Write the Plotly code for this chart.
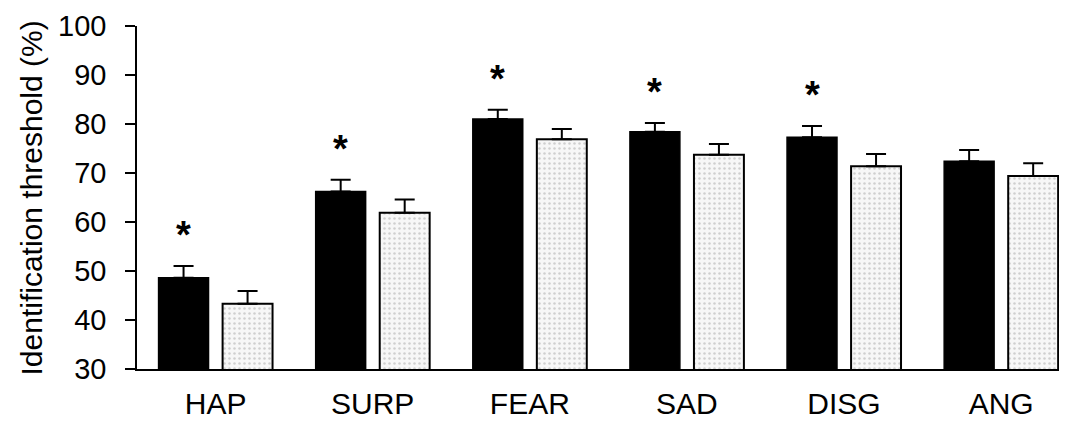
import plotly.graph_objects as go

categories = ["HAP", "SURP", "FEAR", "SAD", "DISG", "ANG"]
group_a = [48.6, 66.2, 81.0, 78.4, 77.3, 72.4]
group_a_err = [2.4, 2.4, 1.9, 1.8, 2.3, 2.3]
group_b = [43.3, 61.9, 76.9, 73.7, 71.4, 69.4]
group_b_err = [2.6, 2.7, 2.1, 2.2, 2.5, 2.6]
significant = [True, True, True, True, True, False]
y_ticks = [30, 40, 50, 60, 70, 80, 90, 100]
y_title = "Identification threshold (%)"

font_family = "Arial, Liberation Sans, sans-serif"

fig = go.Figure()
fig.add_trace(go.Bar(
    x=categories, y=group_a,
    marker=dict(color="black", line=dict(color="black", width=1.5)),
    error_y=dict(type="data", symmetric=False, array=group_a_err,
                 arrayminus=[0] * len(group_a_err), color="black",
                 thickness=2, width=10),
    showlegend=False,
))
fig.add_trace(go.Bar(
    x=categories, y=group_b,
    marker=dict(color="#f2f2f2", line=dict(color="black", width=2),
                pattern=dict(shape=".", fgcolor="#a8a8a8", bgcolor="#f7f7f7",
                             size=5, solidity=0.2)),
    error_y=dict(type="data", symmetric=False, array=group_b_err,
                 arrayminus=[0] * len(group_b_err), color="black",
                 thickness=2, width=10),
    showlegend=False,
))

for cat, v, e, sig in zip(categories, group_a, group_a_err, significant):
    if sig:
        fig.add_annotation(x=cat, y=v + e, xref="x", yref="y", text="<b>*</b>",
                           showarrow=False, xshift=-32, yshift=8, yanchor="bottom",
                           font=dict(size=38, color="black", family=font_family))

fig.add_annotation(x=-0.1133, y=0.5, xref="paper", yref="paper", text=y_title,
                   textangle=-90, showarrow=False, xanchor="center", yanchor="middle",
                   font=dict(size=30, color="black", family=font_family))

fig.update_layout(
    width=1067, height=424,
    margin=dict(l=129, r=11, t=18, b=63),
    paper_bgcolor="white", plot_bgcolor="white",
    barmode="group", bargap=0.185, bargroupgap=0.22,
    font=dict(family=font_family, color="black"),
)
fig.update_xaxes(
    range=[-0.5, 5.4], showline=True, linecolor="black", linewidth=1.5,
    ticks="", tickfont=dict(size=30), ticklabelstandoff=7,
    showgrid=False, zeroline=False, automargin=False,
)
fig.update_yaxes(
    range=[30, 100], tickvals=y_ticks, showline=True, linecolor="black",
    linewidth=1.5, ticks="outside", ticklen=10, tickwidth=1.5, tickcolor="black",
    tickfont=dict(size=29), ticklabelstandoff=13, showgrid=False, zeroline=False,
    automargin=False,
)

fig.write_html("out.html")
